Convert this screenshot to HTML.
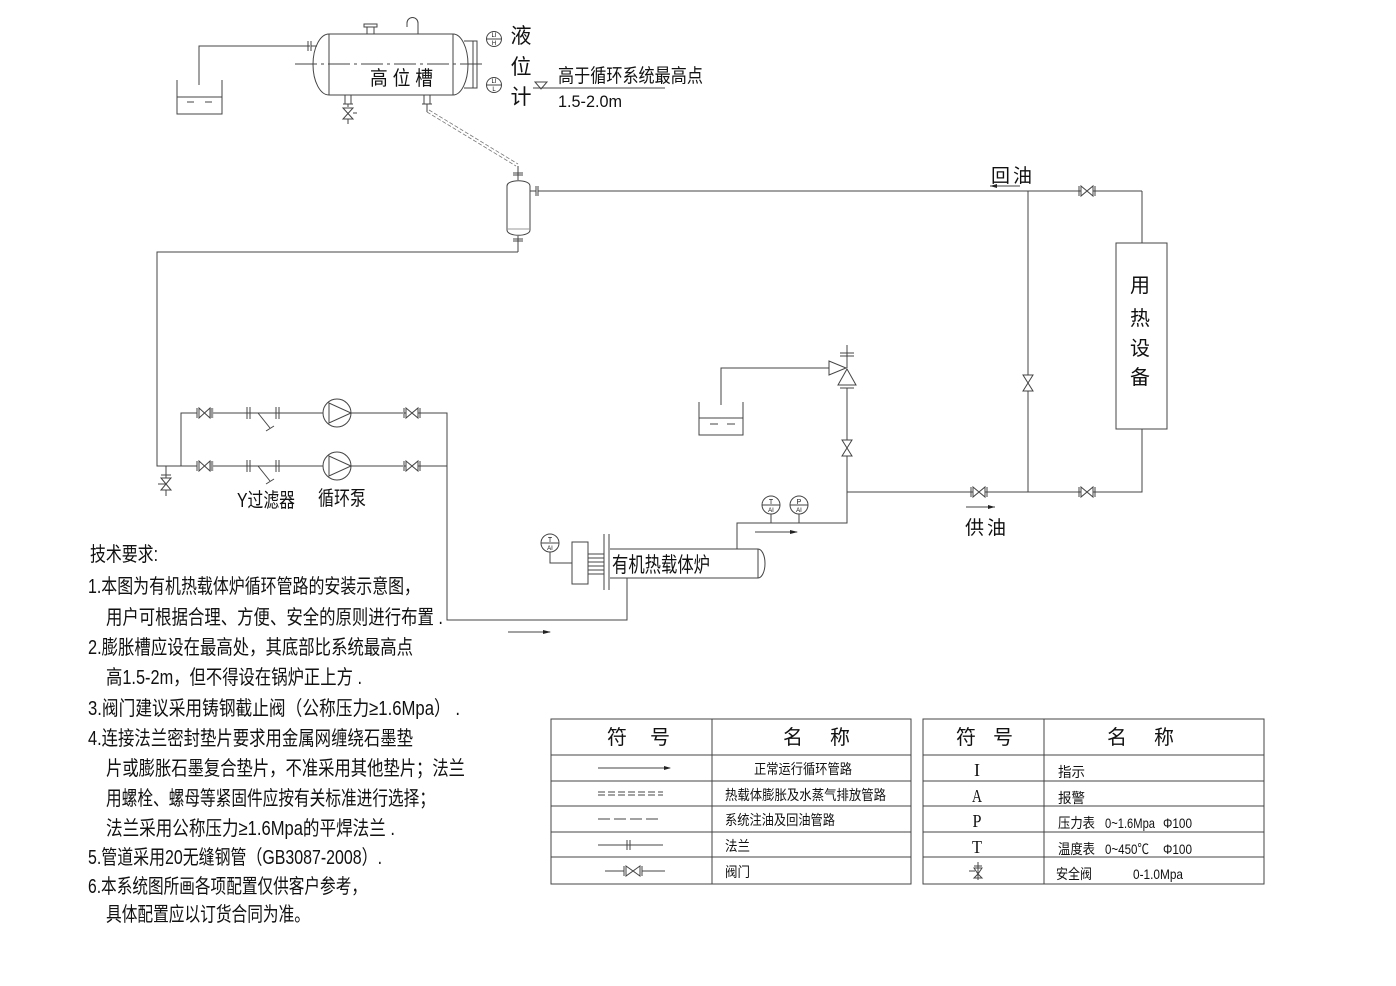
<!DOCTYPE html>
<html><head><meta charset="utf-8"><style>
html,body{margin:0;padding:0;background:#fff;}
svg{display:block;}
.l{stroke:#444;stroke-width:1;fill:none;}
.g{stroke:#888;stroke-width:1.4;fill:none;}
.t{font-family:"Liberation Sans","Noto Sans CJK SC",sans-serif;fill:#111;}
.s{font-family:"Liberation Serif","Noto Sans CJK SC",serif;fill:#111;}
</style></head><body>
<svg width="1396" height="986" viewBox="0 0 1396 986" xmlns="http://www.w3.org/2000/svg">
<defs>
<g id="vh" class="l"><line x1="-8" y1="-5" x2="-8" y2="5"/><line x1="8" y1="-5" x2="8" y2="5"/><path d="M-6,-5 L6,5 L6,-5 L-6,5 Z" fill="#fff"/><line x1="-8" y1="0" x2="-6" y2="0"/><line x1="6" y1="0" x2="8" y2="0"/></g>
<g id="vv" class="l"><path d="M-5,-8 L5,8 L-5,8 L5,-8 Z" fill="#fff"/></g>
</defs>
<rect width="1396" height="986" fill="#fff"/>

<!-- left open container -->
<g class="l">
<polyline points="177,80 177,114 222,114 222,80"/>
<line x1="177" y1="97" x2="222" y2="97"/>
<line x1="187" y1="102" x2="194" y2="102"/><line x1="205" y1="102" x2="212" y2="102"/>
<polyline points="199,85 199,46 310,46"/>
<line x1="308" y1="41" x2="308" y2="51"/><line x1="311" y1="41" x2="311" y2="51"/>
<line x1="311" y1="46" x2="317" y2="46"/>
</g>

<!-- high level tank -->
<g class="l">
<line x1="329" y1="34" x2="453" y2="34"/>
<line x1="329" y1="95" x2="453" y2="95"/>
<line x1="329" y1="34" x2="329" y2="95"/>
<line x1="453" y1="34" x2="453" y2="95"/>
<path d="M329,34 A16,30.5 0 0 0 329,95"/>
<path d="M453,34 A15,30.5 0 0 1 453,95"/>
<line x1="295" y1="64" x2="484" y2="64" stroke-dasharray="22,4,3,4"/>
<rect x="364" y="24" width="13" height="3"/>
<line x1="367" y1="27" x2="367" y2="34"/><line x1="374" y1="27" x2="374" y2="34"/>
<path d="M407,27 L407,23 A5.5,5.5 0 0 1 418,23 L418,34"/>
<line x1="464" y1="41" x2="476" y2="41"/><line x1="464" y1="88" x2="476" y2="88"/>
<rect x="473" y="41" width="4" height="47"/>
<line x1="345" y1="95" x2="345" y2="104"/><line x1="351" y1="95" x2="351" y2="104"/>
<line x1="343" y1="104" x2="353" y2="104"/>
<line x1="348" y1="104" x2="348" y2="107"/>
<path d="M343,108 L353,119 L343,119 L353,108 Z" fill="#fff"/>
<line x1="353" y1="113" x2="357" y2="113"/>
<line x1="348" y1="119" x2="348" y2="124"/>
<line x1="424" y1="95" x2="424" y2="104"/><line x1="430" y1="95" x2="430" y2="104"/>
<line x1="422" y1="104" x2="432" y2="104"/>
<line x1="427" y1="104" x2="427" y2="112"/>
</g>
<!-- expansion diagonal (double dashed) -->
<g stroke="#777" stroke-width="0.8" fill="none" stroke-dasharray="4,2">
<line x1="427" y1="112" x2="516" y2="166"/>
<line x1="429" y1="110" x2="518" y2="164"/>
</g>
<g class="l"><circle cx="494" cy="39" r="7.5"/><line x1="487" y1="39" x2="501" y2="39"/><circle cx="494" cy="85" r="7.5"/><line x1="487" y1="85" x2="501" y2="85"/></g>
<text class="t" x="494" y="37" font-size="6" text-anchor="middle">LI</text>
<text class="t" x="494" y="45" font-size="6" text-anchor="middle">H</text>
<text class="t" x="494" y="83" font-size="6" text-anchor="middle">LI</text>
<text class="t" x="494" y="91" font-size="6" text-anchor="middle">L</text>
<text class="t" x="370" y="85" font-size="20" textLength="63" lengthAdjust="spacingAndGlyphs">高 位 槽</text>
<text class="t" x="521" y="43" font-size="21" text-anchor="middle">液</text>
<text class="t" x="521" y="74" font-size="21" text-anchor="middle">位</text>
<text class="t" x="521" y="104" font-size="21" text-anchor="middle">计</text>
<path class="l" d="M535,82 L547,82 L541,89 Z"/>
<line class="l" x1="533" y1="88" x2="665" y2="88"/>
<text class="t" x="558" y="82" font-size="19" textLength="145" lengthAdjust="spacingAndGlyphs">高于循环系统最高点</text>
<text class="t" x="558" y="107" font-size="17" textLength="64" lengthAdjust="spacingAndGlyphs">1.5-2.0m</text>

<!-- expansion vessel -->
<g class="l">
<line x1="518" y1="166" x2="518" y2="180"/>
<line x1="513" y1="173" x2="523" y2="173"/><line x1="513" y1="175" x2="523" y2="175"/>
<path d="M507,186 C507,179 530,179 530,186 L530,230 C530,237 507,237 507,230 Z" fill="#fff"/>
<line x1="507" y1="229" x2="530" y2="229" stroke="#999"/>
<line x1="518" y1="236" x2="518" y2="252"/>
<line x1="513" y1="239" x2="523" y2="239"/><line x1="513" y1="241" x2="523" y2="241"/>
<polyline points="518,252 157,252 157,466 181,466"/>
<line x1="530" y1="191" x2="536" y2="191"/>
<line x1="536" y1="186" x2="536" y2="196"/><line x1="538" y1="186" x2="538" y2="196"/>
<line x1="538" y1="191" x2="1142" y2="191"/>
</g>

<!-- return/supply right side -->
<g class="l">
<line x1="1028" y1="191" x2="1028" y2="492"/>
<polyline points="1142,191 1142,243"/>
<rect x="1116" y="243" width="51" height="186" fill="#fff"/>
<polyline points="1142,429 1142,492 847,492"/>
</g>
<use href="#vh" x="1087" y="191"/>
<use href="#vh" x="1087" y="492"/>
<use href="#vh" x="979" y="492"/>
<use href="#vv" x="1028" y="383"/>
<text class="t" x="1140" y="292" font-size="20" text-anchor="middle">用</text>
<text class="t" x="1140" y="325" font-size="20" text-anchor="middle">热</text>
<text class="t" x="1140" y="355" font-size="20" text-anchor="middle">设</text>
<text class="t" x="1140" y="384" font-size="20" text-anchor="middle">备</text>
<text class="t" x="991" y="182" font-size="19">回</text>
<text class="t" x="1013" y="182" font-size="19">油</text>
<line class="l" x1="990" y1="186" x2="1020" y2="186"/>
<path d="M990,186 L997,184 L997,188 Z" fill="#222"/>
<text class="t" x="965" y="534" font-size="19">供</text>
<text class="t" x="987" y="534" font-size="19">油</text>
<line class="l" x1="966" y1="507" x2="995" y2="507"/>
<path d="M995,507 L988,505 L988,509 Z" fill="#222"/>

<!-- pumps -->
<g class="l">
<polyline points="181,466 181,413 197,413"/>
<line x1="181" y1="466" x2="197" y2="466"/>
<line x1="212" y1="413" x2="323" y2="413"/>
<line x1="212" y1="466" x2="323" y2="466"/>
<line x1="351" y1="413" x2="403" y2="413"/>
<line x1="351" y1="466" x2="403" y2="466"/>
<polyline points="420,413 447,413 447,620 627,620 627,578"/>
<line x1="420" y1="466" x2="447" y2="466"/>
</g>
<g class="l">
<line x1="197" y1="408" x2="197" y2="418"/><path d="M199,408 L210,418 L210,408 L199,418 Z" fill="#fff"/><line x1="212" y1="408" x2="212" y2="418" stroke="#999" stroke-width="2.5"/>
<line x1="197" y1="461" x2="197" y2="471"/><path d="M199,461 L210,471 L210,461 L199,471 Z" fill="#fff"/><line x1="212" y1="461" x2="212" y2="471" stroke="#999" stroke-width="2.5"/>
<line x1="247" y1="407" x2="247" y2="419"/><line x1="250" y1="407" x2="250" y2="419"/>
<line x1="276" y1="407" x2="276" y2="419"/><line x1="279" y1="407" x2="279" y2="419"/>
<line x1="258" y1="413" x2="270" y2="428"/><line x1="266" y1="431" x2="274" y2="426"/>
<line x1="247" y1="460" x2="247" y2="472"/><line x1="250" y1="460" x2="250" y2="472"/>
<line x1="276" y1="460" x2="276" y2="472"/><line x1="279" y1="460" x2="279" y2="472"/>
<line x1="258" y1="466" x2="270" y2="481"/><line x1="266" y1="484" x2="274" y2="479"/>
<circle cx="337" cy="413" r="14" fill="#fff"/>
<path d="M329,403 L329,423 L351,413 Z"/>
<circle cx="337" cy="466" r="14" fill="#fff"/>
<path d="M329,456 L329,476 L351,466 Z"/>
</g>
<use href="#vh" x="412" y="413"/>
<use href="#vh" x="412" y="466"/>
<g class="l">
<line x1="166" y1="466" x2="166" y2="478"/>
<line x1="161" y1="475" x2="171" y2="475"/>
<path d="M161,478 L171,490 L161,490 L171,478 Z" fill="#fff"/>
<line x1="158" y1="484" x2="166" y2="484"/>
<line x1="166" y1="490" x2="166" y2="496"/>
</g>
<text class="t" x="237" y="507" font-size="20" textLength="58" lengthAdjust="spacingAndGlyphs">Y过滤器</text>
<text class="t" x="318" y="505" font-size="20" textLength="48" lengthAdjust="spacingAndGlyphs">循环泵</text>

<!-- boiler -->
<g class="l">
<line x1="610" y1="549" x2="758" y2="549"/>
<line x1="610" y1="578" x2="758" y2="578"/>
<line x1="758" y1="549" x2="758" y2="578"/>
<path d="M758,549 A7,14.5 0 0 1 758,578"/>
<line x1="604" y1="534" x2="604" y2="590"/><line x1="609" y1="534" x2="609" y2="590"/>
<rect x="572" y="542" width="16" height="42"/>
<line x1="588" y1="554" x2="604" y2="554"/><line x1="588" y1="558" x2="604" y2="558"/>
<line x1="588" y1="562" x2="604" y2="562"/><line x1="588" y1="566" x2="604" y2="566"/>
<line x1="588" y1="570" x2="604" y2="570"/><line x1="588" y1="574" x2="604" y2="574"/>
<polyline points="550,552 550,563 572,563"/>
<circle cx="550" cy="543" r="9" fill="#fff"/><line x1="541" y1="543" x2="559" y2="543"/>
<polyline points="737,549 737,523 847,523 847,388"/>
<line x1="771" y1="514" x2="771" y2="523"/><line x1="799" y1="514" x2="799" y2="523"/>
<circle cx="771" cy="505" r="9" fill="#fff"/><line x1="762" y1="505" x2="780" y2="505"/>
<circle cx="799" cy="505" r="9" fill="#fff"/><line x1="790" y1="505" x2="808" y2="505"/>
<line x1="847" y1="345" x2="847" y2="368"/>
<line x1="840" y1="353" x2="854" y2="353"/><line x1="840" y1="356" x2="854" y2="356"/>
<path d="M829,361 L829,375 L846,368 Z" fill="#fff"/>
<path d="M847,369 L838,385 L856,385 Z" fill="#fff"/>
<line x1="840" y1="388" x2="854" y2="388"/>
<polyline points="829,368 721,368 721,405"/>
<polyline points="699,402 699,435 743,435 743,402"/>
<line x1="699" y1="418" x2="743" y2="418"/>
<line x1="710" y1="424" x2="718" y2="424"/><line x1="727" y1="424" x2="735" y2="424"/>
</g>
<use href="#vv" x="847" y="448"/>
<text class="t" x="550" y="542" font-size="7" text-anchor="middle">T</text>
<text class="t" x="550" y="550" font-size="6" text-anchor="middle">AI</text>
<text class="t" x="771" y="504" font-size="7" text-anchor="middle">T</text>
<text class="t" x="771" y="512" font-size="6" text-anchor="middle">AI</text>
<text class="t" x="799" y="504" font-size="7" text-anchor="middle">P</text>
<text class="t" x="799" y="512" font-size="6" text-anchor="middle">AI</text>
<text class="t" x="612" y="572" font-size="21" textLength="98" lengthAdjust="spacingAndGlyphs">有机热载体炉</text>
<line class="l" x1="755" y1="532" x2="797" y2="532"/>
<path d="M798,532 L790,530 L790,534 Z" fill="#222"/>
<line class="l" x1="508" y1="632" x2="550" y2="632"/>
<path d="M551,632 L543,630 L543,634 Z" fill="#222"/>

<!-- technical requirements -->
<g class="t" font-size="20">
<text x="90" y="561" textLength="68" lengthAdjust="spacingAndGlyphs">技术要求:</text>
<text x="88" y="593" textLength="332" lengthAdjust="spacingAndGlyphs">1.本图为有机热载体炉循环管路的安装示意图，</text>
<text x="106" y="624" textLength="337" lengthAdjust="spacingAndGlyphs">用户可根据合理、方便、安全的原则进行布置 .</text>
<text x="88" y="654" textLength="325" lengthAdjust="spacingAndGlyphs">2.膨胀槽应设在最高处，其底部比系统最高点</text>
<text x="106" y="684" textLength="256" lengthAdjust="spacingAndGlyphs">高1.5-2m，但不得设在锅炉正上方 .</text>
<text x="88" y="715" textLength="372" lengthAdjust="spacingAndGlyphs">3.阀门建议采用铸钢截止阀（公称压力≥1.6Mpa） .</text>
<text x="88" y="745" textLength="325" lengthAdjust="spacingAndGlyphs">4.连接法兰密封垫片要求用金属网缠绕石墨垫</text>
<text x="106" y="775" textLength="359" lengthAdjust="spacingAndGlyphs">片或膨胀石墨复合垫片，不准采用其他垫片；法兰</text>
<text x="106" y="805" textLength="329" lengthAdjust="spacingAndGlyphs">用螺栓、螺母等紧固件应按有关标准进行选择；</text>
<text x="106" y="835" textLength="289" lengthAdjust="spacingAndGlyphs">法兰采用公称压力≥1.6Mpa的平焊法兰 .</text>
<text x="88" y="864" textLength="294" lengthAdjust="spacingAndGlyphs">5.管道采用20无缝钢管（GB3087-2008）.</text>
<text x="88" y="893" textLength="279" lengthAdjust="spacingAndGlyphs">6.本系统图所画各项配置仅供客户参考，</text>
<text x="106" y="921" textLength="204" lengthAdjust="spacingAndGlyphs">具体配置应以订货合同为准。</text>
</g>

<!-- legend table 1 -->
<g class="l" stroke="#555">
<rect x="551" y="719" width="360" height="165"/>
<line x1="712" y1="719" x2="712" y2="884"/>
<line x1="551" y1="755" x2="911" y2="755"/>
<line x1="551" y1="781" x2="911" y2="781"/>
<line x1="551" y1="806" x2="911" y2="806"/>
<line x1="551" y1="832" x2="911" y2="832"/>
<line x1="551" y1="857" x2="911" y2="857"/>
</g>
<g class="t" font-size="20">
<text x="607" y="744">符</text><text x="650" y="744">号</text>
<text x="783" y="744">名</text><text x="830" y="744">称</text>
</g>
<g class="l">
<line x1="598" y1="768" x2="670" y2="768"/>
<line x1="598" y1="792" x2="663" y2="792" stroke-dasharray="7,3"/>
<line x1="598" y1="795" x2="663" y2="795" stroke-dasharray="7,3"/>
<line x1="598" y1="819" x2="660" y2="819" stroke-dasharray="12,4"/>
<line x1="598" y1="845" x2="663" y2="845"/>
<line x1="627" y1="840" x2="627" y2="850"/><line x1="630" y1="840" x2="630" y2="850"/>
<line x1="605" y1="871" x2="624" y2="871"/><line x1="642" y1="871" x2="665" y2="871"/>
<line x1="624" y1="866" x2="624" y2="876"/><line x1="642" y1="866" x2="642" y2="876"/>
<path d="M626,866 L640,876 L640,866 L626,876 Z"/>
</g>
<path d="M671,768 L664,766 L664,770 Z" fill="#222"/>
<g class="t" font-size="14">
<text x="754" y="774" textLength="98" lengthAdjust="spacingAndGlyphs">正常运行循环管路</text>
<text x="725" y="800" textLength="161" lengthAdjust="spacingAndGlyphs">热载体膨胀及水蒸气排放管路</text>
<text x="725" y="825" textLength="110" lengthAdjust="spacingAndGlyphs">系统注油及回油管路</text>
<text x="725" y="851" textLength="25" lengthAdjust="spacingAndGlyphs">法兰</text>
<text x="725" y="877" textLength="25" lengthAdjust="spacingAndGlyphs">阀门</text>
</g>

<!-- legend table 2 -->
<g class="l" stroke="#555">
<rect x="923" y="719" width="341" height="165"/>
<line x1="1044" y1="719" x2="1044" y2="884"/>
<line x1="923" y1="755" x2="1264" y2="755"/>
<line x1="923" y1="781" x2="1264" y2="781"/>
<line x1="923" y1="806" x2="1264" y2="806"/>
<line x1="923" y1="832" x2="1264" y2="832"/>
<line x1="923" y1="857" x2="1264" y2="857"/>
</g>
<g class="t" font-size="20">
<text x="956" y="744">符</text><text x="993" y="744">号</text>
<text x="1107" y="744">名</text><text x="1154" y="744">称</text>
</g>
<g class="s" font-size="18" text-anchor="middle">
<text x="977" y="776" textLength="6" lengthAdjust="spacingAndGlyphs">I</text>
<text x="977" y="802" textLength="10" lengthAdjust="spacingAndGlyphs">A</text>
<text x="977" y="827" textLength="9" lengthAdjust="spacingAndGlyphs">P</text>
<text x="977" y="853" textLength="10" lengthAdjust="spacingAndGlyphs">T</text>
</g>
<g class="l">
<line x1="978" y1="862" x2="978" y2="880"/>
<line x1="974" y1="866" x2="982" y2="866"/>
<line x1="969" y1="871" x2="975" y2="871"/>
<path d="M974,868 L982,868 L978,874 Z"/>
<path d="M978,874 L974,878 L982,878 Z"/>
</g>
<g class="t" font-size="14">
<text x="1058" y="777" textLength="27" lengthAdjust="spacingAndGlyphs">指示</text>
<text x="1058" y="803" textLength="27" lengthAdjust="spacingAndGlyphs">报警</text>
<text x="1058" y="828" textLength="37" lengthAdjust="spacingAndGlyphs">压力表</text>
<text x="1105" y="828" textLength="50" lengthAdjust="spacingAndGlyphs">0~1.6Mpa</text>
<text x="1163" y="828" textLength="29" lengthAdjust="spacingAndGlyphs">Φ100</text>
<text x="1058" y="854" textLength="37" lengthAdjust="spacingAndGlyphs">温度表</text>
<text x="1105" y="854" textLength="44" lengthAdjust="spacingAndGlyphs">0~450℃</text>
<text x="1163" y="854" textLength="29" lengthAdjust="spacingAndGlyphs">Φ100</text>
<text x="1056" y="879" textLength="36" lengthAdjust="spacingAndGlyphs">安全阀</text>
<text x="1133" y="879" textLength="50" lengthAdjust="spacingAndGlyphs">0-1.0Mpa</text>
</g>
</svg>
</body></html>
